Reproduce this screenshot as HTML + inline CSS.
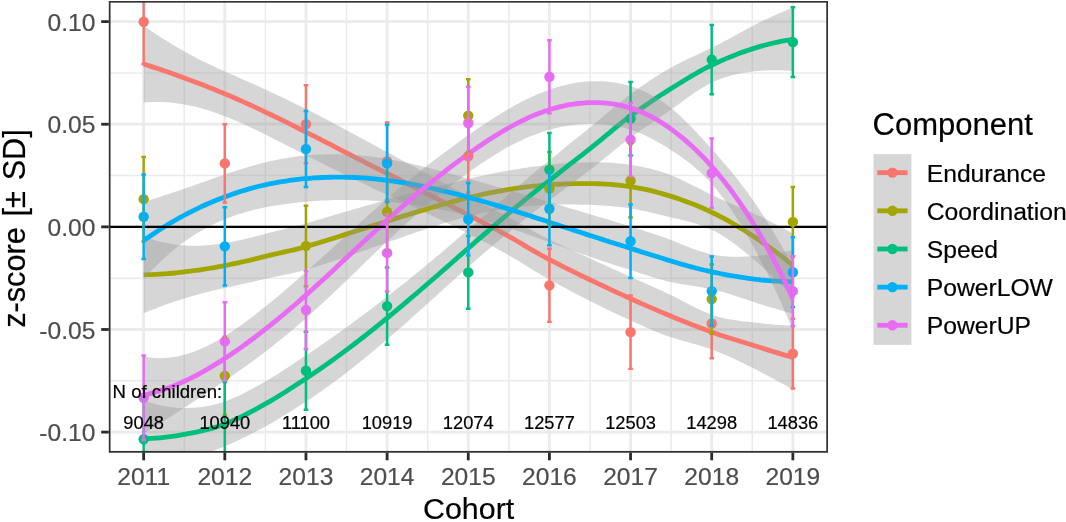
<!DOCTYPE html>
<html lang="en"><head><meta charset="utf-8"><title>Component z-score by cohort</title>
<style>html,body{margin:0;padding:0;background:#fff}svg{display:block}</style></head>
<body>
<svg width="1066" height="522" viewBox="0 0 1066 522" font-family="'Liberation Sans', Arial, Helvetica, sans-serif">
<rect width="1066" height="522" fill="#fff"/>
<defs><clipPath id="pc"><rect x="108.8" y="0.9" width="719.2" height="451.8"/></clipPath></defs>
<g clip-path="url(#pc)">
<line x1="108.8" x2="828.0" y1="380.79" y2="380.79" stroke="#EBEBEB" stroke-width="1.5"/>
<line x1="108.8" x2="828.0" y1="278.16" y2="278.16" stroke="#EBEBEB" stroke-width="1.5"/>
<line x1="108.8" x2="828.0" y1="175.54" y2="175.54" stroke="#EBEBEB" stroke-width="1.5"/>
<line x1="108.8" x2="828.0" y1="72.91" y2="72.91" stroke="#EBEBEB" stroke-width="1.5"/>
<line y1="0.9" y2="452.7" x1="184.24" x2="184.24" stroke="#EBEBEB" stroke-width="1.5"/>
<line y1="0.9" y2="452.7" x1="265.38" x2="265.38" stroke="#EBEBEB" stroke-width="1.5"/>
<line y1="0.9" y2="452.7" x1="346.53" x2="346.53" stroke="#EBEBEB" stroke-width="1.5"/>
<line y1="0.9" y2="452.7" x1="427.69" x2="427.69" stroke="#EBEBEB" stroke-width="1.5"/>
<line y1="0.9" y2="452.7" x1="508.84" x2="508.84" stroke="#EBEBEB" stroke-width="1.5"/>
<line y1="0.9" y2="452.7" x1="589.99" x2="589.99" stroke="#EBEBEB" stroke-width="1.5"/>
<line y1="0.9" y2="452.7" x1="671.13" x2="671.13" stroke="#EBEBEB" stroke-width="1.5"/>
<line y1="0.9" y2="452.7" x1="752.28" x2="752.28" stroke="#EBEBEB" stroke-width="1.5"/>
<line x1="108.8" x2="828.0" y1="432.10" y2="432.10" stroke="#EBEBEB" stroke-width="2.8"/>
<line x1="108.8" x2="828.0" y1="329.48" y2="329.48" stroke="#EBEBEB" stroke-width="2.8"/>
<line x1="108.8" x2="828.0" y1="226.85" y2="226.85" stroke="#EBEBEB" stroke-width="2.8"/>
<line x1="108.8" x2="828.0" y1="124.22" y2="124.22" stroke="#EBEBEB" stroke-width="2.8"/>
<line x1="108.8" x2="828.0" y1="21.60" y2="21.60" stroke="#EBEBEB" stroke-width="2.8"/>
<line y1="0.9" y2="452.7" x1="143.66" x2="143.66" stroke="#EBEBEB" stroke-width="2.8"/>
<line y1="0.9" y2="452.7" x1="224.81" x2="224.81" stroke="#EBEBEB" stroke-width="2.8"/>
<line y1="0.9" y2="452.7" x1="305.96" x2="305.96" stroke="#EBEBEB" stroke-width="2.8"/>
<line y1="0.9" y2="452.7" x1="387.11" x2="387.11" stroke="#EBEBEB" stroke-width="2.8"/>
<line y1="0.9" y2="452.7" x1="468.26" x2="468.26" stroke="#EBEBEB" stroke-width="2.8"/>
<line y1="0.9" y2="452.7" x1="549.41" x2="549.41" stroke="#EBEBEB" stroke-width="2.8"/>
<line y1="0.9" y2="452.7" x1="630.56" x2="630.56" stroke="#EBEBEB" stroke-width="2.8"/>
<line y1="0.9" y2="452.7" x1="711.71" x2="711.71" stroke="#EBEBEB" stroke-width="2.8"/>
<line y1="0.9" y2="452.7" x1="792.86" x2="792.86" stroke="#EBEBEB" stroke-width="2.8"/>
<path d="M143.66,25.56 L147.72,28.42 L151.77,31.22 L155.83,33.96 L159.89,36.64 L163.95,39.25 L168.00,41.80 L172.06,44.29 L176.12,46.71 L180.18,49.07 L184.24,51.37 L188.29,53.61 L192.35,55.78 L196.41,57.90 L200.47,59.97 L204.52,61.98 L208.58,63.95 L212.64,65.87 L216.70,67.76 L220.75,69.61 L224.81,71.43 L228.87,73.24 L232.92,75.04 L236.98,76.83 L241.04,78.63 L245.10,80.43 L249.15,82.23 L253.21,84.05 L257.27,85.87 L261.33,87.71 L265.38,89.56 L269.44,91.43 L273.50,93.31 L277.56,95.21 L281.62,97.12 L285.67,99.05 L289.73,101.00 L293.79,102.97 L297.85,104.95 L301.90,106.94 L305.96,108.95 L310.02,110.98 L314.07,113.04 L318.13,115.12 L322.19,117.22 L326.25,119.34 L330.30,121.48 L334.36,123.63 L338.42,125.80 L342.48,127.99 L346.53,130.18 L350.59,132.38 L354.65,134.59 L358.71,136.80 L362.77,138.99 L366.82,141.18 L370.88,143.37 L374.94,145.55 L379.00,147.73 L383.05,149.91 L387.11,152.10 L391.17,154.29 L395.22,156.48 L399.28,158.68 L403.34,160.90 L407.40,163.13 L411.45,165.37 L415.51,167.61 L419.57,169.85 L423.63,172.08 L427.69,174.31 L431.74,176.53 L435.80,178.74 L439.86,180.95 L443.92,183.14 L447.97,185.33 L452.03,187.51 L456.09,189.69 L460.15,191.85 L464.20,194.01 L468.26,196.16 L472.32,198.30 L476.37,200.43 L480.43,202.56 L484.49,204.68 L488.55,206.79 L492.60,208.90 L496.66,211.01 L500.72,213.11 L504.78,215.25 L508.84,217.45 L512.89,219.69 L516.95,221.97 L521.01,224.26 L525.07,226.56 L529.12,228.84 L533.18,231.09 L537.24,233.31 L541.30,235.46 L545.35,237.55 L549.41,239.54 L553.47,241.49 L557.52,243.41 L561.58,245.33 L565.64,247.23 L569.70,249.12 L573.75,251.01 L577.81,252.88 L581.87,254.74 L585.93,256.60 L589.99,258.46 L594.04,260.31 L598.10,262.15 L602.16,264.00 L606.22,265.84 L610.27,267.68 L614.33,269.52 L618.39,271.36 L622.45,273.20 L626.50,275.04 L630.56,276.89 L634.62,278.71 L638.67,280.51 L642.73,282.29 L646.79,284.06 L650.85,285.84 L654.90,287.63 L658.96,289.46 L663.02,291.33 L667.08,293.25 L671.13,295.23 L675.19,297.28 L679.25,299.37 L683.31,301.48 L687.37,303.58 L691.42,305.65 L695.48,307.67 L699.54,309.60 L703.60,311.43 L707.65,313.12 L711.71,314.67 L715.77,316.02 L719.82,317.17 L723.88,318.16 L727.94,319.00 L732.00,319.73 L736.05,320.35 L740.11,320.90 L744.17,321.39 L748.23,321.85 L752.28,322.31 L756.34,322.78 L760.40,323.24 L764.46,323.67 L768.52,324.08 L772.57,324.45 L776.63,324.78 L780.69,325.08 L784.75,325.32 L788.80,325.50 L792.86,325.63 L792.86,389.46 L788.80,387.14 L784.75,384.87 L780.69,382.63 L776.63,380.43 L772.57,378.27 L768.52,376.13 L764.46,374.01 L760.40,371.91 L756.34,369.82 L752.28,367.74 L748.23,365.67 L744.17,363.64 L740.11,361.66 L736.05,359.73 L732.00,357.86 L727.94,356.05 L723.88,354.30 L719.82,352.63 L715.77,351.02 L711.71,349.50 L707.65,348.08 L703.60,346.77 L699.54,345.54 L695.48,344.37 L691.42,343.24 L687.37,342.12 L683.31,340.99 L679.25,339.83 L675.19,338.62 L671.13,337.32 L667.08,335.91 L663.02,334.41 L658.96,332.83 L654.90,331.17 L650.85,329.45 L646.79,327.68 L642.73,325.87 L638.67,324.04 L634.62,322.21 L630.56,320.37 L626.50,318.54 L622.45,316.68 L618.39,314.80 L614.33,312.89 L610.27,310.96 L606.22,309.01 L602.16,307.04 L598.10,305.05 L594.04,303.03 L589.99,301.00 L585.93,298.94 L581.87,296.86 L577.81,294.77 L573.75,292.65 L569.70,290.52 L565.64,288.37 L561.58,286.20 L557.52,284.02 L553.47,281.82 L549.41,279.61 L545.35,277.35 L541.30,275.00 L537.24,272.59 L533.18,270.13 L529.12,267.63 L525.07,265.12 L521.01,262.61 L516.95,260.12 L512.89,257.66 L508.84,255.25 L504.78,252.91 L500.72,250.65 L496.66,248.45 L492.60,246.27 L488.55,244.11 L484.49,241.97 L480.43,239.84 L476.37,237.74 L472.32,235.66 L468.26,233.59 L464.20,231.54 L460.15,229.51 L456.09,227.50 L452.03,225.49 L447.97,223.51 L443.92,221.53 L439.86,219.57 L435.80,217.61 L431.74,215.67 L427.69,213.73 L423.63,211.80 L419.57,209.88 L415.51,207.95 L411.45,206.03 L407.40,204.12 L403.34,202.22 L399.28,200.34 L395.22,198.47 L391.17,196.61 L387.11,194.75 L383.05,192.89 L379.00,191.02 L374.94,189.15 L370.88,187.26 L366.82,185.36 L362.77,183.44 L358.71,181.50 L354.65,179.54 L350.59,177.55 L346.53,175.55 L342.48,173.54 L338.42,171.51 L334.36,169.48 L330.30,167.44 L326.25,165.40 L322.19,163.35 L318.13,161.30 L314.07,159.24 L310.02,157.19 L305.96,155.14 L301.90,153.09 L297.85,151.03 L293.79,148.97 L289.73,146.90 L285.67,144.83 L281.62,142.77 L277.56,140.71 L273.50,138.65 L269.44,136.62 L265.38,134.59 L261.33,132.59 L257.27,130.60 L253.21,128.65 L249.15,126.73 L245.10,124.85 L241.04,123.01 L236.98,121.22 L232.92,119.48 L228.87,117.81 L224.81,116.20 L220.75,114.67 L216.70,113.19 L212.64,111.79 L208.58,110.47 L204.52,109.22 L200.47,108.07 L196.41,107.00 L192.35,106.03 L188.29,105.15 L184.24,104.38 L180.18,103.71 L176.12,103.15 L172.06,102.69 L168.00,102.34 L163.95,102.10 L159.89,101.97 L155.83,101.95 L151.77,102.03 L147.72,102.23 L143.66,102.53Z" fill="#999999" fill-opacity="0.4"/>
<path d="M143.66,64.05 L147.72,65.33 L151.77,66.63 L155.83,67.95 L159.89,69.30 L163.95,70.68 L168.00,72.07 L172.06,73.49 L176.12,74.93 L180.18,76.39 L184.24,77.88 L188.29,79.38 L192.35,80.91 L196.41,82.45 L200.47,84.02 L204.52,85.60 L208.58,87.21 L212.64,88.83 L216.70,90.48 L220.75,92.14 L224.81,93.82 L228.87,95.52 L232.92,97.26 L236.98,99.02 L241.04,100.82 L245.10,102.64 L249.15,104.48 L253.21,106.35 L257.27,108.24 L261.33,110.15 L265.38,112.08 L269.44,114.02 L273.50,115.98 L277.56,117.96 L281.62,119.94 L285.67,121.94 L289.73,123.95 L293.79,125.97 L297.85,127.99 L301.90,130.02 L305.96,132.05 L310.02,134.09 L314.07,136.14 L318.13,138.21 L322.19,140.28 L326.25,142.37 L330.30,144.46 L334.36,146.56 L338.42,148.66 L342.48,150.76 L346.53,152.86 L350.59,154.97 L354.65,157.06 L358.71,159.15 L362.77,161.22 L366.82,163.27 L370.88,165.32 L374.94,167.35 L379.00,169.38 L383.05,171.40 L387.11,173.42 L391.17,175.45 L395.22,177.48 L399.28,179.51 L403.34,181.56 L407.40,183.62 L411.45,185.70 L415.51,187.78 L419.57,189.86 L423.63,191.94 L427.69,194.02 L431.74,196.10 L435.80,198.18 L439.86,200.26 L443.92,202.34 L447.97,204.42 L452.03,206.50 L456.09,208.59 L460.15,210.68 L464.20,212.77 L468.26,214.87 L472.32,216.98 L476.37,219.09 L480.43,221.20 L484.49,223.32 L488.55,225.45 L492.60,227.59 L496.66,229.73 L500.72,231.88 L504.78,234.08 L508.84,236.35 L512.89,238.68 L516.95,241.04 L521.01,243.44 L525.07,245.84 L529.12,248.24 L533.18,250.61 L537.24,252.95 L541.30,255.23 L545.35,257.45 L549.41,259.58 L553.47,261.66 L557.52,263.72 L561.58,265.77 L565.64,267.80 L569.70,269.82 L573.75,271.83 L577.81,273.82 L581.87,275.80 L585.93,277.77 L589.99,279.73 L594.04,281.67 L598.10,283.60 L602.16,285.52 L606.22,287.43 L610.27,289.32 L614.33,291.20 L618.39,293.08 L622.45,294.94 L626.50,296.79 L630.56,298.63 L634.62,300.46 L638.67,302.28 L642.73,304.08 L646.79,305.87 L650.85,307.64 L654.90,309.40 L658.96,311.14 L663.02,312.87 L667.08,314.58 L671.13,316.27 L675.19,317.95 L679.25,319.60 L683.31,321.24 L687.37,322.85 L691.42,324.45 L695.48,326.02 L699.54,327.57 L703.60,329.10 L707.65,330.60 L711.71,332.08 L715.77,333.52 L719.82,334.90 L723.88,336.23 L727.94,337.53 L732.00,338.79 L736.05,340.04 L740.11,341.28 L744.17,342.51 L748.23,343.76 L752.28,345.03 L756.34,346.30 L760.40,347.57 L764.46,348.84 L768.52,350.10 L772.57,351.36 L776.63,352.61 L780.69,353.85 L784.75,355.09 L788.80,356.32 L792.86,357.55" fill="none" stroke="#F8766D" stroke-width="4.8" stroke-linejoin="round" stroke-linecap="butt"/>
<path d="M143.66,236.29 L147.72,237.79 L151.77,239.15 L155.83,240.39 L159.89,241.49 L163.95,242.47 L168.00,243.32 L172.06,244.05 L176.12,244.65 L180.18,245.12 L184.24,245.48 L188.29,245.72 L192.35,245.84 L196.41,245.85 L200.47,245.75 L204.52,245.54 L208.58,245.24 L212.64,244.85 L216.70,244.37 L220.75,243.81 L224.81,243.17 L228.87,242.46 L232.92,241.69 L236.98,240.85 L241.04,239.96 L245.10,239.03 L249.15,238.05 L253.21,237.03 L257.27,235.98 L261.33,234.91 L265.38,233.81 L269.44,232.74 L273.50,231.72 L277.56,230.73 L281.62,229.76 L285.67,228.80 L289.73,227.83 L293.79,226.84 L297.85,225.80 L301.90,224.70 L305.96,223.52 L310.02,222.31 L314.07,221.09 L318.13,219.87 L322.19,218.65 L326.25,217.44 L330.30,216.23 L334.36,215.02 L338.42,213.81 L342.48,212.62 L346.53,211.42 L350.59,210.24 L354.65,209.05 L358.71,207.88 L362.77,206.71 L366.82,205.55 L370.88,204.40 L374.94,203.25 L379.00,202.11 L383.05,200.98 L387.11,199.86 L391.17,198.74 L395.22,197.63 L399.28,196.53 L403.34,195.44 L407.40,194.36 L411.45,193.28 L415.51,192.21 L419.57,191.14 L423.63,190.09 L427.69,189.04 L431.74,188.00 L435.80,186.96 L439.86,185.93 L443.92,184.92 L447.97,183.90 L452.03,182.90 L456.09,181.90 L460.15,180.92 L464.20,179.94 L468.26,178.97 L472.32,178.02 L476.37,177.09 L480.43,176.19 L484.49,175.31 L488.55,174.45 L492.60,173.62 L496.66,172.82 L500.72,172.04 L504.78,171.28 L508.84,170.55 L512.89,169.84 L516.95,169.16 L521.01,168.50 L525.07,167.87 L529.12,167.27 L533.18,166.70 L537.24,166.15 L541.30,165.64 L545.35,165.15 L549.41,164.70 L553.47,164.29 L557.52,163.93 L561.58,163.62 L565.64,163.34 L569.70,163.10 L573.75,162.89 L577.81,162.69 L581.87,162.52 L585.93,162.39 L589.99,162.32 L594.04,162.29 L598.10,162.32 L602.16,162.41 L606.22,162.56 L610.27,162.78 L614.33,163.06 L618.39,163.41 L622.45,163.83 L626.50,164.33 L630.56,164.91 L634.62,165.56 L638.67,166.27 L642.73,167.05 L646.79,167.91 L650.85,168.87 L654.90,169.92 L658.96,171.09 L663.02,172.37 L667.08,173.78 L671.13,175.32 L675.19,176.99 L679.25,178.78 L683.31,180.66 L687.37,182.63 L691.42,184.65 L695.48,186.71 L699.54,188.78 L703.60,190.85 L707.65,192.88 L711.71,194.85 L715.77,196.76 L719.82,198.60 L723.88,200.40 L727.94,202.17 L732.00,203.93 L736.05,205.69 L740.11,207.45 L744.17,209.21 L748.23,210.98 L752.28,212.80 L756.34,214.67 L760.40,216.59 L764.46,218.56 L768.52,220.58 L772.57,222.64 L776.63,224.74 L780.69,226.88 L784.75,229.05 L788.80,231.25 L792.86,233.48 L792.86,297.32 L788.80,292.89 L784.75,288.60 L780.69,284.43 L776.63,280.39 L772.57,276.46 L768.52,272.63 L764.46,268.90 L760.40,265.27 L756.34,261.71 L752.28,258.22 L748.23,254.80 L744.17,251.46 L740.11,248.21 L736.05,245.07 L732.00,242.06 L727.94,239.22 L723.88,236.54 L719.82,234.05 L715.77,231.76 L711.71,229.69 L707.65,227.84 L703.60,226.19 L699.54,224.72 L695.48,223.41 L691.42,222.24 L687.37,221.17 L683.31,220.18 L679.25,219.25 L675.19,218.33 L671.13,217.40 L667.08,216.44 L663.02,215.45 L658.96,214.45 L654.90,213.46 L650.85,212.48 L646.79,211.53 L642.73,210.63 L638.67,209.80 L634.62,209.05 L630.56,208.40 L626.50,207.83 L622.45,207.31 L618.39,206.85 L614.33,206.43 L610.27,206.06 L606.22,205.74 L602.16,205.46 L598.10,205.22 L594.04,205.02 L589.99,204.86 L585.93,204.73 L581.87,204.64 L577.81,204.58 L573.75,204.53 L569.70,204.50 L565.64,204.48 L561.58,204.49 L557.52,204.54 L553.47,204.63 L549.41,204.77 L545.35,204.96 L541.30,205.18 L537.24,205.44 L533.18,205.73 L529.12,206.07 L525.07,206.44 L521.01,206.85 L516.95,207.31 L512.89,207.81 L508.84,208.35 L504.78,208.94 L500.72,209.58 L496.66,210.26 L492.60,210.99 L488.55,211.77 L484.49,212.60 L480.43,213.47 L476.37,214.40 L472.32,215.38 L468.26,216.40 L464.20,217.47 L460.15,218.58 L456.09,219.71 L452.03,220.88 L447.97,222.08 L443.92,223.30 L439.86,224.56 L435.80,225.83 L431.74,227.14 L427.69,228.46 L423.63,229.81 L419.57,231.17 L415.51,232.55 L411.45,233.94 L407.40,235.35 L403.34,236.77 L399.28,238.19 L395.22,239.63 L391.17,241.07 L387.11,242.51 L383.05,243.96 L379.00,245.41 L374.94,246.85 L370.88,248.29 L366.82,249.73 L362.77,251.16 L358.71,252.58 L354.65,254.00 L350.59,255.40 L346.53,256.79 L342.48,258.16 L338.42,259.52 L334.36,260.87 L330.30,262.19 L326.25,263.50 L322.19,264.79 L318.13,266.05 L314.07,267.29 L310.02,268.51 L305.96,269.71 L301.90,270.84 L297.85,271.88 L293.79,272.83 L289.73,273.73 L285.67,274.58 L281.62,275.41 L277.56,276.23 L273.50,277.06 L269.44,277.93 L265.38,278.85 L261.33,279.79 L257.27,280.72 L253.21,281.64 L249.15,282.54 L245.10,283.45 L241.04,284.34 L236.98,285.24 L232.92,286.13 L228.87,287.03 L224.81,287.94 L220.75,288.86 L216.70,289.80 L212.64,290.77 L208.58,291.76 L204.52,292.78 L200.47,293.84 L196.41,294.94 L192.35,296.08 L188.29,297.27 L184.24,298.49 L180.18,299.77 L176.12,301.09 L172.06,302.45 L168.00,303.87 L163.95,305.32 L159.89,306.83 L155.83,308.38 L151.77,309.96 L147.72,311.60 L143.66,313.27Z" fill="#999999" fill-opacity="0.4"/>
<path d="M143.66,274.78 L147.72,274.69 L151.77,274.56 L155.83,274.38 L159.89,274.16 L163.95,273.90 L168.00,273.59 L172.06,273.25 L176.12,272.87 L180.18,272.45 L184.24,271.99 L188.29,271.49 L192.35,270.96 L196.41,270.39 L200.47,269.80 L204.52,269.16 L208.58,268.50 L212.64,267.81 L216.70,267.09 L220.75,266.33 L224.81,265.56 L228.87,264.75 L232.92,263.91 L236.98,263.04 L241.04,262.15 L245.10,261.24 L249.15,260.30 L253.21,259.33 L257.27,258.35 L261.33,257.35 L265.38,256.33 L269.44,255.33 L273.50,254.39 L277.56,253.48 L281.62,252.59 L285.67,251.69 L289.73,250.78 L293.79,249.83 L297.85,248.84 L301.90,247.77 L305.96,246.62 L310.02,245.41 L314.07,244.19 L318.13,242.96 L322.19,241.72 L326.25,240.47 L330.30,239.21 L334.36,237.94 L338.42,236.67 L342.48,235.39 L346.53,234.11 L350.59,232.82 L354.65,231.53 L358.71,230.23 L362.77,228.94 L366.82,227.64 L370.88,226.35 L374.94,225.05 L379.00,223.76 L383.05,222.47 L387.11,221.19 L391.17,219.91 L395.22,218.63 L399.28,217.36 L403.34,216.10 L407.40,214.85 L411.45,213.61 L415.51,212.38 L419.57,211.16 L423.63,209.95 L427.69,208.75 L431.74,207.57 L435.80,206.40 L439.86,205.25 L443.92,204.11 L447.97,202.99 L452.03,201.89 L456.09,200.81 L460.15,199.75 L464.20,198.70 L468.26,197.68 L472.32,196.70 L476.37,195.74 L480.43,194.83 L484.49,193.95 L488.55,193.11 L492.60,192.31 L496.66,191.54 L500.72,190.81 L504.78,190.11 L508.84,189.45 L512.89,188.83 L516.95,188.23 L521.01,187.68 L525.07,187.16 L529.12,186.67 L533.18,186.22 L537.24,185.80 L541.30,185.41 L545.35,185.05 L549.41,184.73 L553.47,184.46 L557.52,184.23 L561.58,184.06 L565.64,183.91 L569.70,183.80 L573.75,183.71 L577.81,183.63 L581.87,183.58 L585.93,183.56 L589.99,183.59 L594.04,183.66 L598.10,183.77 L602.16,183.93 L606.22,184.15 L610.27,184.42 L614.33,184.74 L618.39,185.13 L622.45,185.57 L626.50,186.08 L630.56,186.66 L634.62,187.31 L638.67,188.04 L642.73,188.84 L646.79,189.72 L650.85,190.67 L654.90,191.69 L658.96,192.77 L663.02,193.91 L667.08,195.11 L671.13,196.36 L675.19,197.66 L679.25,199.01 L683.31,200.42 L687.37,201.90 L691.42,203.44 L695.48,205.06 L699.54,206.75 L703.60,208.52 L707.65,210.36 L711.71,212.27 L715.77,214.26 L719.82,216.33 L723.88,218.47 L727.94,220.69 L732.00,223.00 L736.05,225.38 L740.11,227.83 L744.17,230.33 L748.23,232.89 L752.28,235.51 L756.34,238.19 L760.40,240.93 L764.46,243.73 L768.52,246.61 L772.57,249.55 L776.63,252.56 L780.69,255.66 L784.75,258.82 L788.80,262.07 L792.86,265.40" fill="none" stroke="#A3A500" stroke-width="4.8" stroke-linejoin="round" stroke-linecap="butt"/>
<path d="M143.66,400.15 L147.72,401.63 L151.77,402.96 L155.83,404.13 L159.89,405.15 L163.95,406.00 L168.00,406.71 L172.06,407.25 L176.12,407.65 L180.18,407.88 L184.24,407.96 L188.29,407.92 L192.35,407.78 L196.41,407.52 L200.47,407.14 L204.52,406.62 L208.58,405.95 L212.64,405.12 L216.70,404.12 L220.75,402.95 L224.81,401.58 L228.87,400.04 L232.92,398.36 L236.98,396.56 L241.04,394.64 L245.10,392.62 L249.15,390.51 L253.21,388.33 L257.27,386.07 L261.33,383.77 L265.38,381.42 L269.44,379.01 L273.50,376.53 L277.56,374.00 L281.62,371.41 L285.67,368.79 L289.73,366.13 L293.79,363.46 L297.85,360.77 L301.90,358.07 L305.96,355.38 L310.02,352.68 L314.07,349.96 L318.13,347.20 L322.19,344.42 L326.25,341.61 L330.30,338.78 L334.36,335.92 L338.42,333.04 L342.48,330.13 L346.53,327.20 L350.59,324.25 L354.65,321.28 L358.71,318.28 L362.77,315.26 L366.82,312.22 L370.88,309.16 L374.94,306.08 L379.00,302.97 L383.05,299.85 L387.11,296.70 L391.17,293.53 L395.22,290.34 L399.28,287.12 L403.34,283.89 L407.40,280.63 L411.45,277.36 L415.51,274.06 L419.57,270.75 L423.63,267.41 L427.69,264.05 L431.74,260.68 L435.80,257.29 L439.86,253.88 L443.92,250.45 L447.97,247.00 L452.03,243.54 L456.09,240.07 L460.15,236.57 L464.20,233.07 L468.26,229.55 L472.32,226.02 L476.37,222.50 L480.43,218.97 L484.49,215.44 L488.55,211.91 L492.60,208.38 L496.66,204.86 L500.72,201.34 L504.78,197.83 L508.84,194.32 L512.89,190.83 L516.95,187.34 L521.01,183.87 L525.07,180.41 L529.12,176.97 L533.18,173.55 L537.24,170.15 L541.30,166.77 L545.35,163.68 L549.41,160.62 L553.47,157.27 L557.52,153.89 L561.58,150.49 L565.64,147.11 L569.70,143.76 L573.75,140.47 L577.81,137.21 L581.87,133.98 L585.93,130.73 L589.99,127.46 L594.04,124.12 L598.10,120.72 L602.16,117.28 L606.22,113.84 L610.27,110.40 L614.33,107.00 L618.39,103.65 L622.45,100.38 L626.50,97.22 L630.56,94.19 L634.62,91.24 L638.67,88.32 L642.73,85.45 L646.79,82.64 L650.85,79.90 L654.90,77.23 L658.96,74.65 L663.02,72.17 L667.08,69.79 L671.13,67.53 L675.19,65.36 L679.25,63.27 L683.31,61.24 L687.37,59.25 L691.42,57.31 L695.48,55.39 L699.54,53.48 L703.60,51.58 L707.65,49.67 L711.71,47.74 L715.77,45.75 L719.82,43.68 L723.88,41.55 L727.94,39.38 L732.00,37.17 L736.05,34.95 L740.11,32.72 L744.17,30.51 L748.23,28.32 L752.28,26.18 L756.34,24.10 L760.40,22.08 L764.46,20.11 L768.52,18.19 L772.57,16.32 L776.63,14.48 L780.69,12.68 L784.75,10.92 L788.80,9.18 L792.86,7.46 L792.86,71.30 L788.80,70.82 L784.75,70.47 L780.69,70.24 L776.63,70.13 L772.57,70.14 L768.52,70.24 L764.46,70.45 L760.40,70.75 L756.34,71.14 L752.28,71.60 L748.23,72.14 L744.17,72.76 L740.11,73.49 L736.05,74.33 L732.00,75.31 L727.94,76.42 L723.88,77.70 L719.82,79.14 L715.77,80.76 L711.71,82.57 L707.65,84.63 L703.60,86.92 L699.54,89.42 L695.48,92.09 L691.42,94.89 L687.37,97.79 L683.31,100.75 L679.25,103.73 L675.19,106.70 L671.13,109.61 L667.08,112.46 L663.02,115.26 L658.96,118.02 L654.90,120.77 L650.85,123.51 L646.79,126.26 L642.73,129.04 L638.67,131.86 L634.62,134.73 L630.56,137.67 L626.50,140.72 L622.45,143.86 L618.39,147.09 L614.33,150.37 L610.27,153.68 L606.22,157.01 L602.16,160.33 L598.10,163.61 L594.04,166.84 L589.99,169.99 L585.93,173.07 L581.87,176.09 L577.81,179.10 L573.75,182.11 L569.70,185.16 L565.64,188.25 L561.58,191.37 L557.52,194.49 L553.47,197.61 L549.41,200.69 L545.35,203.48 L541.30,206.30 L537.24,209.43 L533.18,212.58 L529.12,215.77 L525.07,218.98 L521.01,222.22 L516.95,225.50 L512.89,228.80 L508.84,232.13 L504.78,235.49 L500.72,238.88 L496.66,242.30 L492.60,245.75 L488.55,249.22 L484.49,252.72 L480.43,256.25 L476.37,259.81 L472.32,263.38 L468.26,266.99 L464.20,270.60 L460.15,274.24 L456.09,277.88 L452.03,281.52 L447.97,285.18 L443.92,288.84 L439.86,292.50 L435.80,296.16 L431.74,299.82 L427.69,303.48 L423.63,307.13 L419.57,310.77 L415.51,314.40 L411.45,318.02 L407.40,321.63 L403.34,325.22 L399.28,328.78 L395.22,332.33 L391.17,335.86 L387.11,339.36 L383.05,342.83 L379.00,346.27 L374.94,349.68 L370.88,353.06 L366.82,356.40 L362.77,359.71 L358.71,362.99 L354.65,366.22 L350.59,369.42 L346.53,372.57 L342.48,375.68 L338.42,378.75 L334.36,381.77 L330.30,384.74 L326.25,387.67 L322.19,390.55 L318.13,393.38 L314.07,396.16 L310.02,398.89 L305.96,401.57 L301.90,404.22 L297.85,406.85 L293.79,409.45 L289.73,412.03 L285.67,414.57 L281.62,417.06 L277.56,419.50 L273.50,421.88 L269.44,424.20 L265.38,426.45 L261.33,428.65 L257.27,430.81 L253.21,432.93 L249.15,435.01 L245.10,437.04 L241.04,439.02 L236.98,440.95 L232.92,442.81 L228.87,444.61 L224.81,446.35 L220.75,448.00 L216.70,449.56 L212.64,451.04 L208.58,452.47 L204.52,453.86 L200.47,455.24 L196.41,456.62 L192.35,458.03 L188.29,459.47 L184.24,460.98 L180.18,462.52 L176.12,464.08 L172.06,465.66 L168.00,467.25 L163.95,468.86 L159.89,470.48 L155.83,472.12 L151.77,473.77 L147.72,475.44 L143.66,477.13Z" fill="#999999" fill-opacity="0.4"/>
<path d="M143.66,438.64 L147.72,438.54 L151.77,438.37 L155.83,438.12 L159.89,437.81 L163.95,437.43 L168.00,436.98 L172.06,436.46 L176.12,435.86 L180.18,435.20 L184.24,434.47 L188.29,433.70 L192.35,432.90 L196.41,432.07 L200.47,431.19 L204.52,430.24 L208.58,429.21 L212.64,428.08 L216.70,426.84 L220.75,425.47 L224.81,423.97 L228.87,422.33 L232.92,420.59 L236.98,418.75 L241.04,416.83 L245.10,414.83 L249.15,412.76 L253.21,410.63 L257.27,408.44 L261.33,406.21 L265.38,403.93 L269.44,401.60 L273.50,399.21 L277.56,396.75 L281.62,394.24 L285.67,391.68 L289.73,389.08 L293.79,386.46 L297.85,383.81 L301.90,381.15 L305.96,378.48 L310.02,375.79 L314.07,373.06 L318.13,370.29 L322.19,367.49 L326.25,364.64 L330.30,361.76 L334.36,358.84 L338.42,355.89 L342.48,352.91 L346.53,349.89 L350.59,346.83 L354.65,343.75 L358.71,340.63 L362.77,337.49 L366.82,334.31 L370.88,331.11 L374.94,327.88 L379.00,324.62 L383.05,321.34 L387.11,318.03 L391.17,314.69 L395.22,311.34 L399.28,307.95 L403.34,304.55 L407.40,301.13 L411.45,297.69 L415.51,294.23 L419.57,290.76 L423.63,287.27 L427.69,283.77 L431.74,280.25 L435.80,276.72 L439.86,273.19 L443.92,269.64 L447.97,266.09 L452.03,262.53 L456.09,258.97 L460.15,255.41 L464.20,251.84 L468.26,248.27 L472.32,244.70 L476.37,241.15 L480.43,237.61 L484.49,234.08 L488.55,230.57 L492.60,227.06 L496.66,223.58 L500.72,220.11 L504.78,216.66 L508.84,213.23 L512.89,209.81 L516.95,206.42 L521.01,203.05 L525.07,199.70 L529.12,196.37 L533.18,193.07 L537.24,189.79 L541.30,186.54 L545.35,183.58 L549.41,180.65 L553.47,177.44 L557.52,174.19 L561.58,170.93 L565.64,167.68 L569.70,164.46 L573.75,161.29 L577.81,158.16 L581.87,155.03 L585.93,151.90 L589.99,148.72 L594.04,145.48 L598.10,142.17 L602.16,138.81 L606.22,135.42 L610.27,132.04 L614.33,128.68 L618.39,125.37 L622.45,122.12 L626.50,118.97 L630.56,115.93 L634.62,112.98 L638.67,110.09 L642.73,107.25 L646.79,104.45 L650.85,101.71 L654.90,99.00 L658.96,96.34 L663.02,93.71 L667.08,91.13 L671.13,88.57 L675.19,86.03 L679.25,83.50 L683.31,81.00 L687.37,78.52 L691.42,76.10 L695.48,73.74 L699.54,71.45 L703.60,69.25 L707.65,67.15 L711.71,65.15 L715.77,63.25 L719.82,61.41 L723.88,59.63 L727.94,57.90 L732.00,56.24 L736.05,54.64 L740.11,53.10 L744.17,51.63 L748.23,50.23 L752.28,48.89 L756.34,47.62 L760.40,46.41 L764.46,45.28 L768.52,44.22 L772.57,43.23 L776.63,42.31 L780.69,41.46 L784.75,40.69 L788.80,40.00 L792.86,39.38" fill="none" stroke="#00BF7D" stroke-width="4.8" stroke-linejoin="round" stroke-linecap="butt"/>
<path d="M143.66,202.15 L147.72,200.84 L151.77,199.53 L155.83,198.22 L159.89,196.90 L163.95,195.57 L168.00,194.22 L172.06,192.87 L176.12,191.51 L180.18,190.13 L184.24,188.74 L188.29,187.34 L192.35,185.93 L196.41,184.51 L200.47,183.08 L204.52,181.65 L208.58,180.21 L212.64,178.78 L216.70,177.35 L220.75,175.92 L224.81,174.51 L228.87,173.12 L232.92,171.76 L236.98,170.43 L241.04,169.13 L245.10,167.88 L249.15,166.67 L253.21,165.50 L257.27,164.39 L261.33,163.32 L265.38,162.31 L269.44,161.36 L273.50,160.47 L277.56,159.63 L281.62,158.85 L285.67,158.14 L289.73,157.49 L293.79,156.90 L297.85,156.37 L301.90,155.91 L305.96,155.51 L310.02,155.16 L314.07,154.87 L318.13,154.64 L322.19,154.46 L326.25,154.33 L330.30,154.26 L334.36,154.25 L338.42,154.30 L342.48,154.40 L346.53,154.57 L350.59,154.78 L354.65,155.04 L358.71,155.35 L362.77,155.71 L366.82,156.11 L370.88,156.57 L374.94,157.08 L379.00,157.65 L383.05,158.27 L387.11,158.95 L391.17,159.67 L395.22,160.44 L399.28,161.23 L403.34,162.07 L407.40,162.93 L411.45,163.82 L415.51,164.74 L419.57,165.69 L423.63,166.67 L427.69,167.66 L431.74,168.68 L435.80,169.72 L439.86,170.77 L443.92,171.84 L447.97,172.93 L452.03,174.03 L456.09,175.14 L460.15,176.26 L464.20,177.39 L468.26,178.53 L472.32,179.68 L476.37,180.83 L480.43,181.99 L484.49,183.16 L488.55,184.33 L492.60,185.50 L496.66,186.67 L500.72,187.85 L504.78,189.03 L508.84,190.21 L512.89,191.39 L516.95,192.58 L521.01,193.76 L525.07,194.95 L529.12,196.14 L533.18,197.34 L537.24,198.53 L541.30,199.73 L545.35,200.93 L549.41,202.13 L553.47,203.33 L557.52,204.53 L561.58,205.74 L565.64,206.94 L569.70,208.14 L573.75,209.35 L577.81,210.55 L581.87,211.76 L585.93,212.97 L589.99,214.19 L594.04,215.41 L598.10,216.63 L602.16,217.86 L606.22,219.09 L610.27,220.33 L614.33,221.57 L618.39,222.82 L622.45,224.08 L626.50,225.34 L630.56,226.60 L634.62,227.86 L638.67,229.12 L642.73,230.37 L646.79,231.65 L650.85,232.94 L654.90,234.26 L658.96,235.63 L663.02,237.04 L667.08,238.51 L671.13,240.04 L675.19,241.63 L679.25,243.27 L683.31,244.92 L687.37,246.54 L691.42,248.13 L695.48,249.64 L699.54,251.05 L703.60,252.33 L707.65,253.46 L711.71,254.41 L715.77,255.16 L719.82,255.76 L723.88,256.20 L727.94,256.50 L732.00,256.68 L736.05,256.75 L740.11,256.72 L744.17,256.60 L748.23,256.41 L752.28,256.16 L756.34,255.87 L760.40,255.51 L764.46,255.09 L768.52,254.60 L772.57,254.04 L776.63,253.39 L780.69,252.66 L784.75,251.84 L788.80,250.93 L792.86,249.92 L792.86,313.75 L788.80,312.57 L784.75,311.39 L780.69,310.22 L776.63,309.04 L772.57,307.86 L768.52,306.66 L764.46,305.44 L760.40,304.19 L756.34,302.91 L752.28,301.59 L748.23,300.23 L744.17,298.85 L740.11,297.48 L736.05,296.13 L732.00,294.81 L727.94,293.54 L723.88,292.34 L719.82,291.21 L715.77,290.17 L711.71,289.24 L707.65,288.42 L703.60,287.67 L699.54,286.99 L695.48,286.34 L691.42,285.71 L687.37,285.08 L683.31,284.43 L679.25,283.73 L675.19,282.97 L671.13,282.12 L667.08,281.17 L663.02,280.12 L658.96,278.99 L654.90,277.80 L650.85,276.55 L646.79,275.26 L642.73,273.96 L638.67,272.65 L634.62,271.35 L630.56,270.09 L626.50,268.83 L622.45,267.55 L618.39,266.26 L614.33,264.95 L610.27,263.61 L606.22,262.27 L602.16,260.90 L598.10,259.52 L594.04,258.13 L589.99,256.72 L585.93,255.31 L581.87,253.88 L577.81,252.44 L573.75,250.99 L569.70,249.54 L565.64,248.08 L561.58,246.61 L557.52,245.14 L553.47,243.67 L549.41,242.20 L545.35,240.73 L541.30,239.27 L537.24,237.81 L533.18,236.37 L529.12,234.94 L525.07,233.52 L521.01,232.12 L516.95,230.73 L512.89,229.36 L508.84,228.02 L504.78,226.69 L500.72,225.39 L496.66,224.12 L492.60,222.87 L488.55,221.64 L484.49,220.45 L480.43,219.28 L476.37,218.15 L472.32,217.04 L468.26,215.97 L464.20,214.93 L460.15,213.92 L456.09,212.95 L452.03,212.01 L447.97,211.10 L443.92,210.23 L439.86,209.39 L435.80,208.59 L431.74,207.82 L427.69,207.08 L423.63,206.38 L419.57,205.72 L415.51,205.09 L411.45,204.49 L407.40,203.92 L403.34,203.39 L399.28,202.89 L395.22,202.43 L391.17,202.00 L387.11,201.60 L383.05,201.25 L379.00,200.94 L374.94,200.68 L370.88,200.47 L366.82,200.29 L362.77,200.16 L358.71,200.06 L354.65,199.99 L350.59,199.95 L346.53,199.93 L342.48,199.95 L338.42,200.01 L334.36,200.10 L330.30,200.23 L326.25,200.39 L322.19,200.59 L318.13,200.82 L314.07,201.08 L310.02,201.37 L305.96,201.69 L301.90,202.05 L297.85,202.45 L293.79,202.90 L289.73,203.38 L285.67,203.92 L281.62,204.50 L277.56,205.13 L273.50,205.81 L269.44,206.55 L265.38,207.34 L261.33,208.20 L257.27,209.12 L253.21,210.11 L249.15,211.16 L245.10,212.30 L241.04,213.51 L236.98,214.81 L232.92,216.21 L228.87,217.69 L224.81,219.28 L220.75,220.98 L216.70,222.78 L212.64,224.69 L208.58,226.73 L204.52,228.89 L200.47,231.18 L196.41,233.61 L192.35,236.18 L188.29,238.89 L184.24,241.76 L180.18,244.77 L176.12,247.95 L172.06,251.28 L168.00,254.77 L163.95,258.42 L159.89,262.23 L155.83,266.21 L151.77,270.35 L147.72,274.65 L143.66,279.12Z" fill="#999999" fill-opacity="0.4"/>
<path d="M143.66,240.63 L147.72,237.75 L151.77,234.94 L155.83,232.21 L159.89,229.56 L163.95,226.99 L168.00,224.50 L172.06,222.07 L176.12,219.73 L180.18,217.45 L184.24,215.25 L188.29,213.12 L192.35,211.06 L196.41,209.06 L200.47,207.13 L204.52,205.27 L208.58,203.47 L212.64,201.74 L216.70,200.06 L220.75,198.45 L224.81,196.90 L228.87,195.41 L232.92,193.98 L236.98,192.62 L241.04,191.32 L245.10,190.09 L249.15,188.92 L253.21,187.80 L257.27,186.75 L261.33,185.76 L265.38,184.83 L269.44,183.95 L273.50,183.14 L277.56,182.38 L281.62,181.68 L285.67,181.03 L289.73,180.44 L293.79,179.90 L297.85,179.41 L301.90,178.98 L305.96,178.60 L310.02,178.27 L314.07,177.98 L318.13,177.73 L322.19,177.52 L326.25,177.36 L330.30,177.25 L334.36,177.18 L338.42,177.15 L342.48,177.18 L346.53,177.25 L350.59,177.37 L354.65,177.52 L358.71,177.70 L362.77,177.93 L366.82,178.20 L370.88,178.52 L374.94,178.88 L379.00,179.29 L383.05,179.76 L387.11,180.27 L391.17,180.84 L395.22,181.43 L399.28,182.06 L403.34,182.73 L407.40,183.43 L411.45,184.16 L415.51,184.92 L419.57,185.71 L423.63,186.52 L427.69,187.37 L431.74,188.25 L435.80,189.15 L439.86,190.08 L443.92,191.04 L447.97,192.01 L452.03,193.02 L456.09,194.04 L460.15,195.09 L464.20,196.16 L468.26,197.25 L472.32,198.36 L476.37,199.49 L480.43,200.64 L484.49,201.80 L488.55,202.98 L492.60,204.18 L496.66,205.39 L500.72,206.62 L504.78,207.86 L508.84,209.11 L512.89,210.38 L516.95,211.65 L521.01,212.94 L525.07,214.24 L529.12,215.54 L533.18,216.85 L537.24,218.17 L541.30,219.50 L545.35,220.83 L549.41,222.16 L553.47,223.50 L557.52,224.84 L561.58,226.17 L565.64,227.51 L569.70,228.84 L573.75,230.17 L577.81,231.50 L581.87,232.82 L585.93,234.14 L589.99,235.46 L594.04,236.77 L598.10,238.08 L602.16,239.38 L606.22,240.68 L610.27,241.97 L614.33,243.26 L618.39,244.54 L622.45,245.82 L626.50,247.08 L630.56,248.34 L634.62,249.61 L638.67,250.88 L642.73,252.17 L646.79,253.45 L650.85,254.74 L654.90,256.03 L658.96,257.31 L663.02,258.58 L667.08,259.84 L671.13,261.08 L675.19,262.30 L679.25,263.50 L683.31,264.67 L687.37,265.81 L691.42,266.92 L695.48,267.99 L699.54,269.02 L703.60,270.00 L707.65,270.94 L711.71,271.82 L715.77,272.67 L719.82,273.48 L723.88,274.27 L727.94,275.02 L732.00,275.75 L736.05,276.44 L740.11,277.10 L744.17,277.72 L748.23,278.32 L752.28,278.87 L756.34,279.39 L760.40,279.85 L764.46,280.26 L768.52,280.63 L772.57,280.95 L776.63,281.22 L780.69,281.44 L784.75,281.62 L788.80,281.75 L792.86,281.83" fill="none" stroke="#00B0F6" stroke-width="4.8" stroke-linejoin="round" stroke-linecap="butt"/>
<path d="M143.66,356.64 L147.72,357.30 L151.77,357.78 L155.83,358.06 L159.89,358.15 L163.95,358.05 L168.00,357.76 L172.06,357.29 L176.12,356.64 L180.18,355.80 L184.24,354.79 L188.29,353.61 L192.35,352.26 L196.41,350.75 L200.47,349.08 L204.52,347.26 L208.58,345.29 L212.64,343.18 L216.70,340.94 L220.75,338.57 L224.81,336.08 L228.87,333.49 L232.92,330.81 L236.98,328.03 L241.04,325.18 L245.10,322.24 L249.15,319.24 L253.21,316.17 L257.27,313.04 L261.33,309.85 L265.38,306.61 L269.44,303.32 L273.50,299.99 L277.56,296.61 L281.62,293.19 L285.67,289.73 L289.73,286.24 L293.79,282.72 L297.85,279.17 L301.90,275.59 L305.96,271.99 L310.02,268.35 L314.07,264.70 L318.13,261.03 L322.19,257.35 L326.25,253.65 L330.30,249.94 L334.36,246.23 L338.42,242.52 L342.48,238.80 L346.53,235.09 L350.59,231.39 L354.65,227.69 L358.71,224.01 L362.77,220.34 L366.82,216.69 L370.88,213.05 L374.94,209.44 L379.00,205.85 L383.05,202.28 L387.11,198.75 L391.17,195.24 L395.22,191.78 L399.28,188.35 L403.34,184.96 L407.40,181.61 L411.45,178.29 L415.51,175.01 L419.57,171.76 L423.63,168.54 L427.69,165.36 L431.74,162.21 L435.80,159.09 L439.86,156.00 L443.92,152.95 L447.97,149.92 L452.03,146.93 L456.09,143.96 L460.15,141.03 L464.20,138.12 L468.26,135.25 L472.32,132.41 L476.37,129.60 L480.43,126.82 L484.49,124.09 L488.55,121.41 L492.60,118.77 L496.66,116.19 L500.72,113.67 L504.78,111.21 L508.84,108.82 L512.89,106.50 L516.95,104.25 L521.01,102.09 L525.07,100.01 L529.12,98.03 L533.18,96.14 L537.24,94.35 L541.30,92.67 L545.35,91.10 L549.41,89.64 L553.47,88.30 L557.52,87.06 L561.58,85.93 L565.64,84.91 L569.70,84.01 L573.75,83.22 L577.81,82.56 L581.87,82.02 L585.93,81.61 L589.99,81.32 L594.04,81.18 L598.10,81.16 L602.16,81.29 L606.22,81.55 L610.27,81.96 L614.33,82.52 L618.39,83.23 L622.45,84.09 L626.50,85.10 L630.56,86.28 L634.62,87.60 L638.67,89.09 L642.73,90.75 L646.79,92.60 L650.85,94.64 L654.90,96.88 L658.96,99.34 L663.02,102.02 L667.08,104.93 L671.13,108.09 L675.19,111.49 L679.25,115.11 L683.31,118.92 L687.37,122.89 L691.42,127.01 L695.48,131.24 L699.54,135.57 L703.60,139.99 L707.65,144.48 L711.71,149.02 L715.77,153.60 L719.82,158.23 L723.88,162.93 L727.94,167.72 L732.00,172.60 L736.05,177.61 L740.11,182.75 L744.17,188.05 L748.23,193.51 L752.28,199.16 L756.34,205.02 L760.40,211.09 L764.46,217.35 L768.52,223.80 L772.57,230.45 L776.63,237.28 L780.69,244.30 L784.75,251.51 L788.80,258.89 L792.86,266.44 L792.86,330.28 L788.80,320.52 L784.75,311.05 L780.69,301.86 L776.63,292.94 L772.57,284.27 L768.52,275.86 L764.46,267.69 L760.40,259.76 L756.34,252.07 L752.28,244.59 L748.23,237.33 L744.17,230.30 L740.11,223.51 L736.05,216.99 L732.00,210.73 L727.94,204.76 L723.88,199.07 L719.82,193.69 L715.77,188.61 L711.71,183.86 L707.65,179.44 L703.60,175.33 L699.54,171.51 L695.48,167.94 L691.42,164.60 L687.37,161.43 L683.31,158.43 L679.25,155.57 L675.19,152.83 L671.13,150.17 L667.08,147.60 L663.02,145.10 L658.96,142.71 L654.90,140.42 L650.85,138.25 L646.79,136.22 L642.73,134.34 L638.67,132.63 L634.62,131.10 L630.56,129.76 L626.50,128.60 L622.45,127.57 L618.39,126.67 L614.33,125.90 L610.27,125.25 L606.22,124.73 L602.16,124.33 L598.10,124.06 L594.04,123.90 L589.99,123.86 L585.93,123.94 L581.87,124.14 L577.81,124.45 L573.75,124.87 L569.70,125.40 L565.64,126.05 L561.58,126.80 L557.52,127.67 L553.47,128.64 L549.41,129.71 L545.35,130.90 L541.30,132.21 L537.24,133.63 L533.18,135.17 L529.12,136.82 L525.07,138.58 L521.01,140.44 L516.95,142.40 L512.89,144.47 L508.84,146.62 L504.78,148.87 L500.72,151.21 L496.66,153.63 L492.60,156.14 L488.55,158.72 L484.49,161.38 L480.43,164.11 L476.37,166.91 L472.32,169.77 L468.26,172.69 L464.20,175.66 L460.15,178.69 L456.09,181.77 L452.03,184.91 L447.97,188.10 L443.92,191.34 L439.86,194.62 L435.80,197.96 L431.74,201.35 L427.69,204.78 L423.63,208.26 L419.57,211.78 L415.51,215.35 L411.45,218.96 L407.40,222.60 L403.34,226.29 L399.28,230.01 L395.22,233.78 L391.17,237.57 L387.11,241.40 L383.05,245.26 L379.00,249.14 L374.94,253.04 L370.88,256.95 L366.82,260.87 L362.77,264.79 L358.71,268.72 L354.65,272.64 L350.59,276.55 L346.53,280.46 L342.48,284.35 L338.42,288.23 L334.36,292.08 L330.30,295.91 L326.25,299.71 L322.19,303.48 L318.13,307.21 L314.07,310.91 L310.02,314.56 L305.96,318.17 L301.90,321.74 L297.85,325.25 L293.79,328.72 L289.73,332.14 L285.67,335.51 L281.62,338.83 L277.56,342.11 L273.50,345.33 L269.44,348.51 L265.38,351.64 L261.33,354.73 L257.27,357.77 L253.21,360.78 L249.15,363.74 L245.10,366.67 L241.04,369.56 L236.98,372.42 L232.92,375.25 L228.87,378.06 L224.81,380.85 L220.75,383.62 L216.70,386.37 L212.64,389.09 L208.58,391.80 L204.52,394.50 L200.47,397.18 L196.41,399.85 L192.35,402.51 L188.29,405.16 L184.24,407.81 L180.18,410.45 L176.12,413.07 L172.06,415.69 L168.00,418.30 L163.95,420.90 L159.89,423.48 L155.83,426.04 L151.77,428.59 L147.72,431.11 L143.66,433.61Z" fill="#999999" fill-opacity="0.4"/>
<path d="M143.66,395.12 L147.72,394.21 L151.77,393.18 L155.83,392.05 L159.89,390.81 L163.95,389.47 L168.00,388.03 L172.06,386.49 L176.12,384.86 L180.18,383.12 L184.24,381.30 L188.29,379.39 L192.35,377.39 L196.41,375.30 L200.47,373.13 L204.52,370.88 L208.58,368.54 L212.64,366.14 L216.70,363.65 L220.75,361.10 L224.81,358.47 L228.87,355.78 L232.92,353.03 L236.98,350.23 L241.04,347.37 L245.10,344.45 L249.15,341.49 L253.21,338.47 L257.27,335.41 L261.33,332.29 L265.38,329.13 L269.44,325.92 L273.50,322.66 L277.56,319.36 L281.62,316.01 L285.67,312.62 L289.73,309.19 L293.79,305.72 L297.85,302.21 L301.90,298.66 L305.96,295.08 L310.02,291.46 L314.07,287.81 L318.13,284.12 L322.19,280.41 L326.25,276.68 L330.30,272.93 L334.36,269.16 L338.42,265.37 L342.48,261.58 L346.53,257.78 L350.59,253.97 L354.65,250.17 L358.71,246.36 L362.77,242.57 L366.82,238.78 L370.88,235.00 L374.94,231.24 L379.00,227.49 L383.05,223.77 L387.11,220.07 L391.17,216.41 L395.22,212.78 L399.28,209.18 L403.34,205.63 L407.40,202.11 L411.45,198.62 L415.51,195.18 L419.57,191.77 L423.63,188.40 L427.69,185.07 L431.74,181.78 L435.80,178.53 L439.86,175.31 L443.92,172.14 L447.97,169.01 L452.03,165.92 L456.09,162.87 L460.15,159.86 L464.20,156.89 L468.26,153.97 L472.32,151.09 L476.37,148.25 L480.43,145.47 L484.49,142.74 L488.55,140.07 L492.60,137.46 L496.66,134.91 L500.72,132.44 L504.78,130.04 L508.84,127.72 L512.89,125.48 L516.95,123.33 L521.01,121.27 L525.07,119.30 L529.12,117.43 L533.18,115.66 L537.24,113.99 L541.30,112.44 L545.35,111.00 L549.41,109.68 L553.47,108.47 L557.52,107.36 L561.58,106.37 L565.64,105.48 L569.70,104.71 L573.75,104.05 L577.81,103.50 L581.87,103.08 L585.93,102.77 L589.99,102.59 L594.04,102.54 L598.10,102.61 L602.16,102.81 L606.22,103.14 L610.27,103.61 L614.33,104.21 L618.39,104.95 L622.45,105.83 L626.50,106.85 L630.56,108.02 L634.62,109.35 L638.67,110.86 L642.73,112.55 L646.79,114.41 L650.85,116.44 L654.90,118.65 L658.96,121.02 L663.02,123.56 L667.08,126.27 L671.13,129.13 L675.19,132.16 L679.25,135.34 L683.31,138.67 L687.37,142.16 L691.42,145.80 L695.48,149.59 L699.54,153.54 L703.60,157.66 L707.65,161.96 L711.71,166.44 L715.77,171.11 L719.82,175.96 L723.88,181.00 L727.94,186.24 L732.00,191.67 L736.05,197.30 L740.11,203.13 L744.17,209.17 L748.23,215.42 L752.28,221.87 L756.34,228.54 L760.40,235.43 L764.46,242.52 L768.52,249.83 L772.57,257.36 L776.63,265.11 L780.69,273.08 L784.75,281.28 L788.80,289.71 L792.86,298.36" fill="none" stroke="#E76BF3" stroke-width="4.8" stroke-linejoin="round" stroke-linecap="butt"/>
<line x1="108.8" x2="828.0" y1="226.85" y2="226.85" stroke="#000" stroke-width="2.4"/>
<circle cx="143.66" cy="21.81" r="5.2" fill="#F8766D"/>
<circle cx="224.81" cy="163.43" r="5.2" fill="#F8766D"/>
<circle cx="305.96" cy="124.22" r="5.2" fill="#F8766D"/>
<circle cx="387.11" cy="161.17" r="5.2" fill="#F8766D"/>
<circle cx="468.26" cy="156.24" r="5.2" fill="#F8766D"/>
<circle cx="549.41" cy="285.35" r="5.2" fill="#F8766D"/>
<circle cx="630.56" cy="332.14" r="5.2" fill="#F8766D"/>
<circle cx="711.71" cy="323.52" r="5.2" fill="#F8766D"/>
<circle cx="792.86" cy="353.69" r="5.2" fill="#F8766D"/>
<circle cx="143.66" cy="199.14" r="5.2" fill="#A3A500"/>
<circle cx="224.81" cy="375.86" r="5.2" fill="#A3A500"/>
<circle cx="305.96" cy="245.94" r="5.2" fill="#A3A500"/>
<circle cx="387.11" cy="211.87" r="5.2" fill="#A3A500"/>
<circle cx="468.26" cy="115.60" r="5.2" fill="#A3A500"/>
<circle cx="549.41" cy="188.47" r="5.2" fill="#A3A500"/>
<circle cx="630.56" cy="180.67" r="5.2" fill="#A3A500"/>
<circle cx="711.71" cy="299.10" r="5.2" fill="#A3A500"/>
<circle cx="792.86" cy="221.92" r="5.2" fill="#A3A500"/>
<circle cx="143.66" cy="439.28" r="5.2" fill="#00BF7D"/>
<circle cx="224.81" cy="493.67" r="5.2" fill="#00BF7D"/>
<circle cx="305.96" cy="370.73" r="5.2" fill="#00BF7D"/>
<circle cx="387.11" cy="306.08" r="5.2" fill="#00BF7D"/>
<circle cx="468.26" cy="272.42" r="5.2" fill="#00BF7D"/>
<circle cx="549.41" cy="169.59" r="5.2" fill="#00BF7D"/>
<circle cx="630.56" cy="118.68" r="5.2" fill="#00BF7D"/>
<circle cx="711.71" cy="59.57" r="5.2" fill="#00BF7D"/>
<circle cx="792.86" cy="42.12" r="5.2" fill="#00BF7D"/>
<circle cx="143.66" cy="216.79" r="5.2" fill="#00B0F6"/>
<circle cx="224.81" cy="246.35" r="5.2" fill="#00B0F6"/>
<circle cx="305.96" cy="149.06" r="5.2" fill="#00B0F6"/>
<circle cx="387.11" cy="163.43" r="5.2" fill="#00B0F6"/>
<circle cx="468.26" cy="219.26" r="5.2" fill="#00B0F6"/>
<circle cx="549.41" cy="208.79" r="5.2" fill="#00B0F6"/>
<circle cx="630.56" cy="241.22" r="5.2" fill="#00B0F6"/>
<circle cx="711.71" cy="291.09" r="5.2" fill="#00B0F6"/>
<circle cx="792.86" cy="272.21" r="5.2" fill="#00B0F6"/>
<circle cx="143.66" cy="397.82" r="5.2" fill="#E76BF3"/>
<circle cx="224.81" cy="341.38" r="5.2" fill="#E76BF3"/>
<circle cx="305.96" cy="309.98" r="5.2" fill="#E76BF3"/>
<circle cx="387.11" cy="252.92" r="5.2" fill="#E76BF3"/>
<circle cx="468.26" cy="122.99" r="5.2" fill="#E76BF3"/>
<circle cx="549.41" cy="76.81" r="5.2" fill="#E76BF3"/>
<circle cx="630.56" cy="139.62" r="5.2" fill="#E76BF3"/>
<circle cx="711.71" cy="173.07" r="5.2" fill="#E76BF3"/>
<circle cx="792.86" cy="291.09" r="5.2" fill="#E76BF3"/>
<path d="M141.36,-20.48H145.96M141.36,64.09H145.96M143.66,-20.48V64.09" fill="none" stroke="#F8766D" stroke-width="2.45"/>
<path d="M222.51,124.22H227.11M222.51,202.63H227.11M224.81,124.22V202.63" fill="none" stroke="#F8766D" stroke-width="2.45"/>
<path d="M303.66,85.23H308.26M303.66,163.22H308.26M305.96,85.23V163.22" fill="none" stroke="#F8766D" stroke-width="2.45"/>
<path d="M384.81,122.58H389.41M384.81,199.76H389.41M387.11,122.58V199.76" fill="none" stroke="#F8766D" stroke-width="2.45"/>
<path d="M465.96,119.91H470.56M465.96,192.57H470.56M468.26,119.91V192.57" fill="none" stroke="#F8766D" stroke-width="2.45"/>
<path d="M547.11,248.81H551.71M547.11,321.88H551.71M549.41,248.81V321.88" fill="none" stroke="#F8766D" stroke-width="2.45"/>
<path d="M628.26,295.40H632.86M628.26,368.88H632.86M630.56,295.40V368.88" fill="none" stroke="#F8766D" stroke-width="2.45"/>
<path d="M709.41,288.84H714.01M709.41,358.21H714.01M711.71,288.84V358.21" fill="none" stroke="#F8766D" stroke-width="2.45"/>
<path d="M790.56,318.80H795.16M790.56,388.59H795.16M792.86,318.80V388.59" fill="none" stroke="#F8766D" stroke-width="2.45"/>
<path d="M141.36,156.86H145.96M141.36,241.42H145.96M143.66,156.86V241.42" fill="none" stroke="#A3A500" stroke-width="2.45"/>
<path d="M222.51,336.66H227.11M222.51,415.06H227.11M224.81,336.66V415.06" fill="none" stroke="#A3A500" stroke-width="2.45"/>
<path d="M303.66,205.71H308.26M303.66,286.17H308.26M305.96,205.71V286.17" fill="none" stroke="#A3A500" stroke-width="2.45"/>
<path d="M384.81,173.28H389.41M384.81,250.45H389.41M387.11,173.28V250.45" fill="none" stroke="#A3A500" stroke-width="2.45"/>
<path d="M465.96,79.28H470.56M465.96,151.93H470.56M468.26,79.28V151.93" fill="none" stroke="#A3A500" stroke-width="2.45"/>
<path d="M547.11,151.93H551.71M547.11,225.00H551.71M549.41,151.93V225.00" fill="none" stroke="#A3A500" stroke-width="2.45"/>
<path d="M628.26,143.93H632.86M628.26,217.41H632.86M630.56,143.93V217.41" fill="none" stroke="#A3A500" stroke-width="2.45"/>
<path d="M709.41,264.41H714.01M709.41,333.79H714.01M711.71,264.41V333.79" fill="none" stroke="#A3A500" stroke-width="2.45"/>
<path d="M790.56,187.03H795.16M790.56,256.82H795.16M792.86,187.03V256.82" fill="none" stroke="#A3A500" stroke-width="2.45"/>
<path d="M141.36,397.00H145.96M141.36,481.57H145.96M143.66,397.00V481.57" fill="none" stroke="#00BF7D" stroke-width="2.45"/>
<path d="M222.51,382.02H227.11M222.51,637.35H227.11M224.81,382.02V637.35" fill="none" stroke="#00BF7D" stroke-width="2.45"/>
<path d="M303.66,331.73H308.26M303.66,409.73H308.26M305.96,331.73V409.73" fill="none" stroke="#00BF7D" stroke-width="2.45"/>
<path d="M384.81,267.49H389.41M384.81,344.66H389.41M387.11,267.49V344.66" fill="none" stroke="#00BF7D" stroke-width="2.45"/>
<path d="M465.96,236.09H470.56M465.96,308.74H470.56M468.26,236.09V308.74" fill="none" stroke="#00BF7D" stroke-width="2.45"/>
<path d="M547.11,133.05H551.71M547.11,206.12H551.71M549.41,133.05V206.12" fill="none" stroke="#00BF7D" stroke-width="2.45"/>
<path d="M628.26,81.94H632.86M628.26,155.42H632.86M630.56,81.94V155.42" fill="none" stroke="#00BF7D" stroke-width="2.45"/>
<path d="M709.41,24.88H714.01M709.41,94.26H714.01M711.71,24.88V94.26" fill="none" stroke="#00BF7D" stroke-width="2.45"/>
<path d="M790.56,7.23H795.16M790.56,77.02H795.16M792.86,7.23V77.02" fill="none" stroke="#00BF7D" stroke-width="2.45"/>
<path d="M141.36,174.51H145.96M141.36,259.07H145.96M143.66,174.51V259.07" fill="none" stroke="#00B0F6" stroke-width="2.45"/>
<path d="M222.51,207.15H227.11M222.51,285.55H227.11M224.81,207.15V285.55" fill="none" stroke="#00B0F6" stroke-width="2.45"/>
<path d="M303.66,111.09H308.26M303.66,187.03H308.26M305.96,111.09V187.03" fill="none" stroke="#00B0F6" stroke-width="2.45"/>
<path d="M384.81,124.84H389.41M384.81,202.01H389.41M387.11,124.84V202.01" fill="none" stroke="#00B0F6" stroke-width="2.45"/>
<path d="M465.96,182.93H470.56M465.96,255.58H470.56M468.26,182.93V255.58" fill="none" stroke="#00B0F6" stroke-width="2.45"/>
<path d="M547.11,172.25H551.71M547.11,245.32H551.71M549.41,172.25V245.32" fill="none" stroke="#00B0F6" stroke-width="2.45"/>
<path d="M628.26,204.48H632.86M628.26,277.96H632.86M630.56,204.48V277.96" fill="none" stroke="#00B0F6" stroke-width="2.45"/>
<path d="M709.41,256.41H714.01M709.41,325.78H714.01M711.71,256.41V325.78" fill="none" stroke="#00B0F6" stroke-width="2.45"/>
<path d="M790.56,237.32H795.16M790.56,307.10H795.16M792.86,237.32V307.10" fill="none" stroke="#00B0F6" stroke-width="2.45"/>
<path d="M141.36,355.54H145.96M141.36,440.10H145.96M143.66,355.54V440.10" fill="none" stroke="#E76BF3" stroke-width="2.45"/>
<path d="M222.51,302.18H227.11M222.51,380.58H227.11M224.81,302.18V380.58" fill="none" stroke="#E76BF3" stroke-width="2.45"/>
<path d="M303.66,270.98H308.26M303.66,348.97H308.26M305.96,270.98V348.97" fill="none" stroke="#E76BF3" stroke-width="2.45"/>
<path d="M384.81,214.33H389.41M384.81,291.50H389.41M387.11,214.33V291.50" fill="none" stroke="#E76BF3" stroke-width="2.45"/>
<path d="M465.96,86.66H470.56M465.96,159.32H470.56M468.26,86.66V159.32" fill="none" stroke="#E76BF3" stroke-width="2.45"/>
<path d="M547.11,40.28H551.71M547.11,113.35H551.71M549.41,40.28V113.35" fill="none" stroke="#E76BF3" stroke-width="2.45"/>
<path d="M628.26,102.88H632.86M628.26,176.36H632.86M630.56,102.88V176.36" fill="none" stroke="#E76BF3" stroke-width="2.45"/>
<path d="M709.41,138.39H714.01M709.41,207.76H714.01M711.71,138.39V207.76" fill="none" stroke="#E76BF3" stroke-width="2.45"/>
<path d="M790.56,256.20H795.16M790.56,325.99H795.16M792.86,256.20V325.99" fill="none" stroke="#E76BF3" stroke-width="2.45"/>
<text x="112.6" y="398.3" font-size="18.6" fill="#000" stroke="#000" stroke-width="0.2">N of children:</text>
<text x="143.66" y="428.7" font-size="18.3" fill="#000" stroke="#000" stroke-width="0.2" text-anchor="middle">9048</text>
<text x="224.81" y="428.7" font-size="18.3" fill="#000" stroke="#000" stroke-width="0.2" text-anchor="middle">10940</text>
<text x="305.96" y="428.7" font-size="18.3" fill="#000" stroke="#000" stroke-width="0.2" text-anchor="middle">11100</text>
<text x="387.11" y="428.7" font-size="18.3" fill="#000" stroke="#000" stroke-width="0.2" text-anchor="middle">10919</text>
<text x="468.26" y="428.7" font-size="18.3" fill="#000" stroke="#000" stroke-width="0.2" text-anchor="middle">12074</text>
<text x="549.41" y="428.7" font-size="18.3" fill="#000" stroke="#000" stroke-width="0.2" text-anchor="middle">12577</text>
<text x="630.56" y="428.7" font-size="18.3" fill="#000" stroke="#000" stroke-width="0.2" text-anchor="middle">12503</text>
<text x="711.71" y="428.7" font-size="18.3" fill="#000" stroke="#000" stroke-width="0.2" text-anchor="middle">14298</text>
<text x="792.86" y="428.7" font-size="18.3" fill="#000" stroke="#000" stroke-width="0.2" text-anchor="middle">14836</text>
<rect x="108.8" y="0.9" width="719.2" height="451.8" fill="none" stroke="#333333" stroke-width="3.5"/>
</g>
<line x1="101.2" x2="108.8" y1="432.10" y2="432.10" stroke="#2b2b2b" stroke-width="2.8"/>
<text x="95.4" y="441.20" font-size="24.6" fill="#4D4D4D" stroke="#4D4D4D" stroke-width="0.2" text-anchor="end">-0.10</text>
<line x1="101.2" x2="108.8" y1="329.48" y2="329.48" stroke="#2b2b2b" stroke-width="2.8"/>
<text x="95.4" y="338.58" font-size="24.6" fill="#4D4D4D" stroke="#4D4D4D" stroke-width="0.2" text-anchor="end">-0.05</text>
<line x1="101.2" x2="108.8" y1="226.85" y2="226.85" stroke="#2b2b2b" stroke-width="2.8"/>
<text x="95.4" y="235.95" font-size="24.6" fill="#4D4D4D" stroke="#4D4D4D" stroke-width="0.2" text-anchor="end">0.00</text>
<line x1="101.2" x2="108.8" y1="124.22" y2="124.22" stroke="#2b2b2b" stroke-width="2.8"/>
<text x="95.4" y="133.32" font-size="24.6" fill="#4D4D4D" stroke="#4D4D4D" stroke-width="0.2" text-anchor="end">0.05</text>
<line x1="101.2" x2="108.8" y1="21.60" y2="21.60" stroke="#2b2b2b" stroke-width="2.8"/>
<text x="95.4" y="30.70" font-size="24.6" fill="#4D4D4D" stroke="#4D4D4D" stroke-width="0.2" text-anchor="end">0.10</text>
<line y1="452.7" y2="460.3" x1="143.66" x2="143.66" stroke="#2b2b2b" stroke-width="2.8"/>
<text x="143.66" y="484.6" font-size="24.6" fill="#4D4D4D" stroke="#4D4D4D" stroke-width="0.2" text-anchor="middle">2011</text>
<line y1="452.7" y2="460.3" x1="224.81" x2="224.81" stroke="#2b2b2b" stroke-width="2.8"/>
<text x="224.81" y="484.6" font-size="24.6" fill="#4D4D4D" stroke="#4D4D4D" stroke-width="0.2" text-anchor="middle">2012</text>
<line y1="452.7" y2="460.3" x1="305.96" x2="305.96" stroke="#2b2b2b" stroke-width="2.8"/>
<text x="305.96" y="484.6" font-size="24.6" fill="#4D4D4D" stroke="#4D4D4D" stroke-width="0.2" text-anchor="middle">2013</text>
<line y1="452.7" y2="460.3" x1="387.11" x2="387.11" stroke="#2b2b2b" stroke-width="2.8"/>
<text x="387.11" y="484.6" font-size="24.6" fill="#4D4D4D" stroke="#4D4D4D" stroke-width="0.2" text-anchor="middle">2014</text>
<line y1="452.7" y2="460.3" x1="468.26" x2="468.26" stroke="#2b2b2b" stroke-width="2.8"/>
<text x="468.26" y="484.6" font-size="24.6" fill="#4D4D4D" stroke="#4D4D4D" stroke-width="0.2" text-anchor="middle">2015</text>
<line y1="452.7" y2="460.3" x1="549.41" x2="549.41" stroke="#2b2b2b" stroke-width="2.8"/>
<text x="549.41" y="484.6" font-size="24.6" fill="#4D4D4D" stroke="#4D4D4D" stroke-width="0.2" text-anchor="middle">2016</text>
<line y1="452.7" y2="460.3" x1="630.56" x2="630.56" stroke="#2b2b2b" stroke-width="2.8"/>
<text x="630.56" y="484.6" font-size="24.6" fill="#4D4D4D" stroke="#4D4D4D" stroke-width="0.2" text-anchor="middle">2017</text>
<line y1="452.7" y2="460.3" x1="711.71" x2="711.71" stroke="#2b2b2b" stroke-width="2.8"/>
<text x="711.71" y="484.6" font-size="24.6" fill="#4D4D4D" stroke="#4D4D4D" stroke-width="0.2" text-anchor="middle">2018</text>
<line y1="452.7" y2="460.3" x1="792.86" x2="792.86" stroke="#2b2b2b" stroke-width="2.8"/>
<text x="792.86" y="484.6" font-size="24.6" fill="#4D4D4D" stroke="#4D4D4D" stroke-width="0.2" text-anchor="middle">2019</text>
<text x="468.6" y="518.8" font-size="30.4" fill="#000" stroke="#000" stroke-width="0.2" text-anchor="middle">Cohort</text>
<text transform="translate(24.9,228.5) rotate(-90)" font-size="30.7" word-spacing="2.2" fill="#000" stroke="#000" stroke-width="0.2" text-anchor="middle">z-score [± SD]</text>
<text x="872.5" y="135.4" font-size="31.0" fill="#000" stroke="#000" stroke-width="0.2">Component</text>
<rect x="873.5" y="154.1" width="37.89999999999998" height="190.75" fill="#D6D6D6"/>
<line x1="877.30" x2="907.60" y1="172.67" y2="172.67" stroke="#F8766D" stroke-width="4.8"/>
<circle cx="892.45" cy="172.67" r="5.2" fill="#F8766D"/>
<text x="926.7" y="181.67" font-size="24.7" fill="#000" stroke="#000" stroke-width="0.2">Endurance</text>
<line x1="877.30" x2="907.60" y1="210.82" y2="210.82" stroke="#A3A500" stroke-width="4.8"/>
<circle cx="892.45" cy="210.82" r="5.2" fill="#A3A500"/>
<text x="926.7" y="219.82" font-size="24.7" fill="#000" stroke="#000" stroke-width="0.2">Coordination</text>
<line x1="877.30" x2="907.60" y1="248.97" y2="248.97" stroke="#00BF7D" stroke-width="4.8"/>
<circle cx="892.45" cy="248.97" r="5.2" fill="#00BF7D"/>
<text x="926.7" y="257.98" font-size="24.7" fill="#000" stroke="#000" stroke-width="0.2">Speed</text>
<line x1="877.30" x2="907.60" y1="287.12" y2="287.12" stroke="#00B0F6" stroke-width="4.8"/>
<circle cx="892.45" cy="287.12" r="5.2" fill="#00B0F6"/>
<text x="926.7" y="296.12" font-size="24.7" fill="#000" stroke="#000" stroke-width="0.2">PowerLOW</text>
<line x1="877.30" x2="907.60" y1="325.27" y2="325.27" stroke="#E76BF3" stroke-width="4.8"/>
<circle cx="892.45" cy="325.27" r="5.2" fill="#E76BF3"/>
<text x="926.7" y="334.27" font-size="24.7" fill="#000" stroke="#000" stroke-width="0.2">PowerUP</text>
</svg>
</body></html>
